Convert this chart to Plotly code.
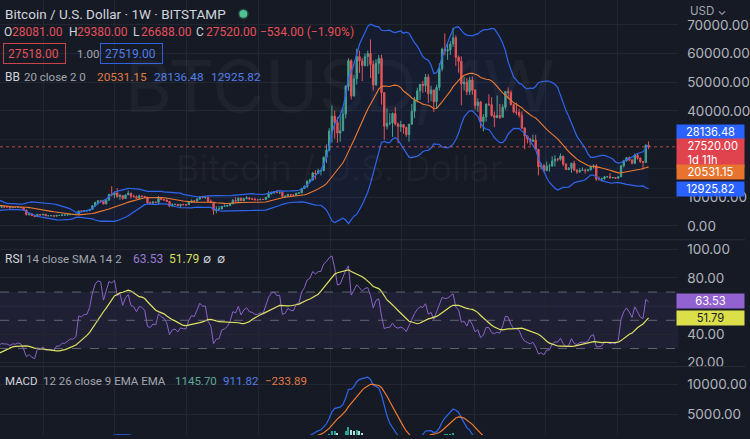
import numpy as np
import pandas as pd
import plotly.graph_objects as go
from plotly.subplots import make_subplots

# ---------------- data (weekly BTC/USD, Bitstamp, values in thousands of USD) -------------
start_week = "2018-01-01"
first_open = 13.4

close_k = [
    # 2018
    16.2, 13.6, 11.6, 11.8, 8.3, 8.1, 10.4, 9.6, 11.5, 9.5, 8.2, 8.4, 6.8,
    7.0, 8.3, 8.9, 9.4, 9.6, 8.7, 8.5, 7.35, 7.7, 6.75, 6.45, 6.15, 6.35,
    6.75, 6.35, 7.4, 8.2, 7.05, 6.3, 6.4, 6.7, 7.3, 6.2, 6.5, 6.7, 6.6,
    6.6, 6.3, 6.45, 6.4, 6.5, 6.35, 5.55, 4.0, 4.15, 3.6, 3.25, 3.95, 3.85, 4.05,
    # 2019
    3.5, 3.55, 3.55, 3.4, 3.65, 3.65, 3.8, 3.8, 3.9, 4.0, 4.0, 4.1,
    5.2, 5.15, 5.3, 5.3, 5.75, 7.0, 8.2, 8.75, 8.7, 7.65, 8.95, 10.9, 10.8,
    11.45, 10.25, 10.55, 9.5, 10.8, 11.4, 10.3, 10.15, 9.6,
    10.4, 10.3, 10.0, 8.05, 7.9, 8.3, 8.2, 9.55, 9.2, 9.05, 8.5, 6.9, 7.4,
    7.5, 7.1, 7.5, 7.4, 7.4,
    # 2020
    8.2, 8.7, 8.6, 9.35, 10.15, 9.9, 9.95, 8.55, 8.05, 5.4, 5.85, 5.9, 6.8,
    6.9, 7.15, 7.7, 8.9, 8.75, 9.65, 8.75, 9.45, 9.75, 9.35, 9.3, 9.1, 9.1,
    9.25, 9.2, 9.95, 11.1, 11.7, 11.9, 11.65, 11.7, 10.25,
    10.35, 10.9, 10.75, 10.7, 11.4, 11.5, 13.0, 13.75,
    15.5, 15.95, 18.4, 18.2, 19.15, 19.25, 23.85, 26.3, 33.0,
    # 2021
    38.2, 36.0, 32.3, 33.1, 38.9, 48.6, 57.5, 45.2, 51.2, 59.0, 57.4, 55.8, 58.9,
    60.0, 56.2, 49.1, 56.6, 58.3, 46.4, 34.7, 35.7, 35.8, 39.1, 35.5, 34.6, 35.3,
    34.25, 31.8, 35.4, 39.9, 43.8, 47.0, 49.3, 48.8, 51.8, 46.0, 47.3, 43.2, 48.2,
    54.7, 61.5, 60.9, 61.3, 63.3, 65.5, 58.7, 57.3, 49.4, 50.1, 46.7, 50.8, 47.3,
    # 2022
    41.9, 43.1, 36.3, 37.9, 42.4, 42.2, 38.4, 37.7, 38.4, 37.8, 41.3, 46.8, 46.4,
    42.2, 39.7, 39.5, 38.5, 34.1, 31.3, 30.3, 29.4, 29.9, 26.6, 20.6, 21.0, 19.3,
    20.8, 20.8, 22.6, 23.3, 23.2, 24.3, 21.5, 19.6, 20.0, 21.8, 19.4, 18.8, 19.3,
    19.4, 19.25, 19.55, 20.6, 20.9, 16.3, 16.3, 16.45, 17.1, 17.1, 16.75, 16.85, 16.6,
    # 2023
    17.1, 20.9, 22.7, 23.75, 22.95, 21.8, 24.65, 23.55, 22.4, 22.1, 28.054, 27.52,
]

high_k = [
    # 2018
    17.2, 17.1, 14.0, 12.0, 12.0, 9.0, 11.0, 11.8, 11.7, 11.6, 9.9, 9.2, 8.5,
    7.5, 8.4, 9.0, 9.8, 9.9, 9.7, 8.9, 8.6, 7.8, 7.8, 6.9, 6.8, 6.5,
    6.9, 6.8, 7.6, 8.5, 8.3, 7.2, 6.6, 6.9, 7.4, 7.4, 6.6, 6.8, 6.8,
    6.7, 6.7, 6.6, 6.5, 6.5, 6.6, 6.5, 5.6, 4.4, 4.3, 3.6, 4.2, 4.2, 4.1,
    # 2019
    4.1, 3.7, 3.6, 3.6, 3.7, 3.7, 4.2, 3.9, 3.95, 4.0, 4.05, 4.15,
    5.3, 5.5, 5.4, 5.6, 5.8, 7.3, 8.3, 8.9, 9.1, 8.8, 9.2, 11.2, 13.8,
    12.0, 13.2, 11.1, 10.6, 11.0, 12.3, 11.5, 10.9, 10.6,
    10.9, 10.5, 10.3, 10.0, 8.5, 8.7, 8.4, 10.4, 9.9, 9.5, 9.1, 8.5, 7.9,
    7.7, 7.6, 7.6, 7.7, 7.6,
    # 2020
    8.4, 9.2, 8.8, 9.6, 10.2, 10.5, 10.3, 10.0, 9.2, 8.2, 6.9, 6.9, 7.0,
    7.5, 7.3, 7.8, 9.4, 10.0, 9.9, 9.9, 9.7, 10.4, 9.9, 9.6, 9.8, 9.3,
    9.5, 9.3, 10.1, 12.1, 11.9, 12.1, 12.5, 11.8, 12.1,
    10.6, 11.2, 10.9, 11.0, 11.5, 11.7, 13.3, 14.1,
    15.9, 16.5, 18.8, 19.4, 19.9, 19.4, 24.2, 28.4, 34.0,
    # 2021
    41.9, 40.1, 37.9, 38.5, 40.9, 49.0, 58.3, 58.0, 52.6, 61.7, 61.0, 58.4, 60.0,
    61.0, 64.9, 57.5, 58.0, 59.5, 59.6, 46.6, 40.9, 39.3, 39.5, 41.3, 36.0, 36.6,
    35.1, 34.6, 35.4, 42.5, 44.9, 48.1, 49.4, 50.5, 52.9, 52.8, 48.8, 47.4, 49.2,
    56.6, 62.0, 67.0, 63.7, 64.3, 69.0, 66.3, 59.3, 59.0, 51.9, 51.5, 51.9, 52.0,
    # 2022
    47.6, 44.4, 43.5, 38.9, 42.6, 45.8, 44.8, 39.8, 45.4, 42.4, 42.3, 47.0, 48.2,
    47.2, 42.5, 42.9, 40.8, 39.9, 34.3, 31.4, 30.6, 31.8, 31.7, 26.9, 21.9, 21.5,
    22.4, 21.6, 24.2, 24.6, 23.6, 25.2, 24.4, 21.8, 20.5, 22.0, 22.7, 19.7, 20.1,
    20.4, 19.9, 19.7, 21.0, 21.4, 21.5, 17.2, 16.8, 17.4, 17.4, 18.4, 17.0, 16.95,
    # 2023
    17.2, 21.3, 23.0, 23.9, 24.2, 23.2, 25.2, 25.3, 23.9, 22.6, 28.4, 29.38,
]

low_k = [
    # 2018
    12.8, 13.1, 9.2, 10.0, 7.9, 6.0, 8.0, 9.3, 9.4, 8.4, 7.3, 8.0, 6.5,
    6.5, 6.6, 7.8, 8.6, 9.0, 8.3, 7.9, 7.1, 7.0, 6.6, 6.1, 5.8, 5.75,
    6.2, 6.1, 6.3, 7.4, 6.9, 6.0, 5.9, 6.2, 6.7, 6.1, 6.1, 6.2, 6.3,
    6.5, 6.1, 6.3, 6.3, 6.2, 6.3, 5.2, 3.6, 3.6, 3.4, 3.2, 3.2, 3.6, 3.7,
    # 2019
    3.45, 3.5, 3.5, 3.35, 3.35, 3.55, 3.6, 3.7, 3.7, 3.85, 3.95, 3.9,
    4.1, 4.9, 5.0, 5.0, 5.2, 5.7, 6.6, 7.5, 8.1, 7.5, 7.5, 8.9, 10.3,
    9.6, 9.8, 9.1, 9.1, 9.4, 10.8, 9.5, 9.9, 9.4,
    9.6, 9.9, 9.6, 7.7, 7.8, 7.8, 7.9, 7.3, 8.9, 8.7, 8.4, 6.5, 6.8,
    7.2, 7.0, 6.4, 7.1, 6.9,
    # 2020
    7.4, 8.1, 8.3, 8.5, 9.1, 9.6, 9.4, 8.4, 8.0, 3.9, 4.4, 5.7, 5.9,
    6.7, 6.6, 6.8, 7.6, 8.1, 8.2, 8.7, 8.7, 9.3, 9.2, 9.2, 8.9, 8.9,
    9.0, 9.1, 9.1, 9.9, 11.0, 11.1, 11.4, 11.1, 9.9,
    9.9, 10.2, 10.2, 10.4, 10.5, 11.2, 11.4, 12.9,
    13.2, 15.0, 15.8, 16.2, 18.1, 17.6, 19.0, 21.9, 26.0,
    # 2021
    29.0, 30.4, 28.9, 29.3, 33.1, 37.4, 47.0, 44.0, 45.1, 49.2, 53.3, 50.4, 55.5,
    55.5, 51.5, 47.1, 48.8, 52.9, 42.2, 30.0, 33.6, 35.0, 31.0, 34.9, 28.8, 32.7,
    32.1, 31.0, 29.3, 35.2, 37.5, 43.0, 43.9, 46.3, 46.6, 42.8, 43.4, 39.6, 40.8,
    47.1, 53.8, 59.4, 57.8, 59.5, 62.3, 55.6, 53.3, 42.0, 47.1, 45.5, 45.6, 45.7,
    # 2022
    40.5, 39.7, 34.0, 32.9, 36.3, 41.7, 38.0, 34.3, 37.5, 37.2, 37.6, 40.5, 44.2,
    41.9, 39.2, 38.6, 37.7, 33.7, 26.7, 28.7, 28.0, 29.3, 26.5, 17.6, 19.6, 18.7,
    19.0, 18.9, 20.7, 20.7, 22.4, 22.7, 20.8, 19.5, 19.5, 18.5, 19.3, 18.1, 18.5,
    19.1, 18.2, 18.9, 19.2, 20.0, 15.6, 15.8, 15.5, 16.1, 16.9, 16.5, 16.6, 16.5,
    # 2023
    16.5, 17.2, 20.4, 22.3, 22.5, 21.4, 21.5, 23.1, 21.9, 19.6, 21.9, 26.688,
]

# axis ticks shown on the price scales (labels hidden behind the value badges are omitted)
price_ticks = [0, 10000, 40000, 50000, 60000, 70000]
rsi_ticks = [20, 40, 80, 100]
macd_ticks = [5000, 10000]

# header / legend readouts (as printed on the chart)
ohlc_letters = ["O", "H", "L", "C"]
ohlc_values = ["28081.00", "29380.00", "26688.00", "27520.00"]
change_text = "−534.00 (−1.90%)"
bid_ask = ["27518.00", "1.00", "27519.00"]
bb_values = ["20531.15", "28136.48", "12925.82"]
rsi_values = ["63.53", "51.79"]
macd_values = ["1145.70", "911.82", "−233.89"]
countdown = "1d 11h"
rsi_levels = [70, 50, 30]

# ---------------- derived series ----------------
n = len(close_k)
dates = pd.date_range(start_week, periods=n, freq="7D")
close = pd.Series(np.array(close_k) * 1000.0, index=dates)
high = np.array(high_k) * 1000.0
low = np.array(low_k) * 1000.0
opens = np.concatenate([[first_open * 1000.0], close.values[:-1]])

basis = close.rolling(20).mean()
dev = close.rolling(20).std(ddof=0)
bb_up = basis + 2 * dev
bb_lo = basis - 2 * dev

delta = close.diff()
gain = delta.clip(lower=0).ewm(alpha=1 / 14, adjust=False).mean()
loss = (-delta.clip(upper=0)).ewm(alpha=1 / 14, adjust=False).mean()
rsi = 100 - 100 / (1 + gain / loss)
rsi_ma = rsi.rolling(14).mean()

ema12 = close.ewm(span=12, adjust=False).mean()
ema26 = close.ewm(span=26, adjust=False).mean()
macd = ema12 - ema26
signal = macd.ewm(span=9, adjust=False).mean()
hist = macd - signal
prev = hist.shift(1)
hist_colors = [
    ("#26a69a" if h > p else "#b2dfdb") if h >= 0 else ("#ffcdd2" if h > p else "#ff5252")
    for h, p in zip(hist.values, prev.fillna(0).values)
]

# ---------------- styling ----------------
BG = "#161a25"
GRID = "#222631"
UP = "#48a48b"
DOWN = "#ef5350"
BLUE = "#2f66f0"
ORANGE = "#f07a2e"
TXT = "#d1d4dc"
GREY = "#a3a6af"
RED_T = "#e5505a"
BLUE_T = "#4f7ee8"
ORANGE_T = "#e07c45"
FONT = "Roboto, Inter, sans-serif"
AXFONT = "Inter, Roboto, sans-serif"
W, H = 750, 439
PLOT_R = 683

def px(x):
    return x / W

def py(y):
    return 1 - y / H

fig = make_subplots(rows=3, cols=1, shared_xaxes=True, vertical_spacing=0,
                    row_heights=[242, 128, 69])

# Bollinger fill + lines
fig.add_trace(go.Scatter(x=dates, y=bb_up, mode="lines", line=dict(color=BLUE, width=1.2),
                         hoverinfo="skip"), row=1, col=1)
fig.add_trace(go.Scatter(x=dates, y=bb_lo, mode="lines", line=dict(color=BLUE, width=1.2),
                         fill="tonexty", fillcolor="rgba(41,98,255,0.05)", hoverinfo="skip"),
              row=1, col=1)
fig.add_trace(go.Scatter(x=dates, y=basis, mode="lines", line=dict(color=ORANGE, width=1.1),
                         hoverinfo="skip"), row=1, col=1)

fig.add_trace(go.Candlestick(
    x=dates, open=opens, high=high, low=low, close=close.values,
    increasing=dict(line=dict(color=UP, width=1), fillcolor=UP),
    decreasing=dict(line=dict(color=DOWN, width=1), fillcolor=DOWN),
    whiskerwidth=0, hoverinfo="skip"), row=1, col=1)

# RSI
fig.add_trace(go.Scatter(x=dates, y=rsi, mode="lines", line=dict(color="#8a63c9", width=1),
                         hoverinfo="skip"), row=2, col=1)
fig.add_trace(go.Scatter(x=dates, y=rsi_ma, mode="lines", line=dict(color="#dfe35f", width=1.2),
                         hoverinfo="skip"), row=2, col=1)

# MACD
fig.add_trace(go.Bar(x=dates, y=hist, marker=dict(color=hist_colors, line=dict(width=0)),
                     width=7 * 24 * 3600 * 1000 * 0.45, hoverinfo="skip"), row=3, col=1)
fig.add_trace(go.Scatter(x=dates, y=macd, mode="lines", line=dict(color=BLUE, width=1.2),
                         hoverinfo="skip"), row=3, col=1)
fig.add_trace(go.Scatter(x=dates, y=signal, mode="lines", line=dict(color=ORANGE, width=1.2),
                         hoverinfo="skip"), row=3, col=1)

x_range = ["2018-09-13", "2023-06-04"]
for i in (1, 2, 3):
    fig.update_xaxes(row=i, col=1, range=x_range, domain=[0, PLOT_R / W],
                     showgrid=True, gridcolor=GRID, gridwidth=1,
                     tick0="2019-01-01", dtick="M6", showticklabels=False,
                     zeroline=False, showline=False, ticks="",
                     rangeslider=dict(visible=False), fixedrange=True)

yax_common = dict(side="right", tickformat=".2f", showgrid=True, gridcolor=GRID,
                  zeroline=False, showline=False, ticks="outside", ticklen=5,
                  tickcolor=BG, tickfont=dict(family=AXFONT, size=13.5, color="#b2b5be"),
                  fixedrange=True)
fig.update_yaxes(row=1, col=1, range=[-4830, 78620], tickvals=price_ticks, **yax_common)
fig.update_yaxes(row=2, col=1, range=[17.2, 107], tickvals=rsi_ticks, **yax_common)
fig.update_yaxes(row=3, col=1, range=[1500, 13000], tickvals=macd_ticks, **yax_common)

shapes = []
# horizontal grid lines that sit behind the hidden labels
for gv in (20000, 30000):
    shapes.append(dict(type="line", xref="x domain", x0=0, x1=1, yref="y", y0=gv, y1=gv,
                       line=dict(color=GRID, width=1), layer="below"))
shapes.append(dict(type="line", xref="x2 domain", x0=0, x1=1, yref="y2", y0=60, y1=60,
                   line=dict(color=GRID, width=1), layer="below"))
# RSI band and levels
shapes.append(dict(type="rect", xref="x2 domain", x0=0, x1=1, yref="y2",
                   y0=min(rsi_levels), y1=max(rsi_levels),
                   fillcolor="rgba(126,87,194,0.10)", line=dict(width=0), layer="below"))
for lv in rsi_levels:
    shapes.append(dict(type="line", xref="x2 domain", x0=0, x1=1, yref="y2", y0=lv, y1=lv,
                       line=dict(color="rgba(120,123,134,0.75)", width=1, dash="dash")))
# last-price dotted line
shapes.append(dict(type="line", xref="x domain", x0=0, x1=1, yref="y",
                   y0=close.values[-1], y1=close.values[-1],
                   line=dict(color="rgba(239,83,80,0.75)", width=1, dash="dot")))
# pane separators
for sep in (242, 370):
    shapes.append(dict(type="line", xref="paper", x0=0, x1=1, yref="paper",
                       y0=py(sep), y1=py(sep), line=dict(color="#2a2e39", width=1)))
# status dot
shapes.append(dict(type="circle", xref="paper", yref="paper",
                   x0=px(241), x1=px(249), y0=py(18), y1=py(10),
                   fillcolor="#4fc390", line=dict(color="rgba(79,195,144,0.25)", width=3)))
fig.update_layout(shapes=shapes)

ann = []

def text(x, y, t, size=12.5, color=TXT, xanchor="left", family=FONT, **kw):
    ann.append(dict(xref="paper", yref="paper", x=px(x), y=py(y), text=t, showarrow=False,
                    xanchor=xanchor, yanchor="middle", align="left",
                    font=dict(family=family, size=size, color=color), **kw))

# title row
text(3, 14, "Bitcoin / U.S. Dollar · 1W · BITSTAMP", size=13.5, color=TXT)
# OHLC row
letter_x = [2, 67, 132, 195]
value_x = [10, 75, 140, 205]
for lt, lx, vt, vx in zip(ohlc_letters, letter_x, ohlc_values, value_x):
    text(lx, 32, lt, size=12, color=TXT)
    text(vx, 32, vt, size=12, color=RED_T)
text(260, 32, change_text, size=12, color=RED_T)
# bid / spread / ask
text(3, 54, bid_ask[0], size=12, color=RED_T, bordercolor="#c9434b", borderwidth=1,
     borderpad=4, width=53, height=11)
text(75, 54, bid_ask[1], size=11.5, color=GREY)
text(101, 54, bid_ask[2], size=12, color=BLUE_T, bordercolor="#2f62e0", borderwidth=1,
     borderpad=4, width=53, height=11)
# BB legend
text(3, 78, "BB", size=12, color=TXT)
text(22, 78, "20 close 2 0", size=11.5, color=GREY)
for t, x0, c in zip(bb_values, [96, 153, 210], [ORANGE_T, BLUE_T, BLUE_T]):
    text(x0, 78, t, size=11.8, color=c)
# RSI legend
text(3, 261, "RSI", size=12, color=TXT)
text(24, 261, "14 close SMA 14 2", size=11.5, color=GREY)
text(132, 261, rsi_values[0], size=12, color="#9a7ad6")
text(168, 261, rsi_values[1], size=12, color="#d9df5a")
text(202, 261, "∅", size=12, color=TXT)
text(216, 261, "∅", size=12, color=TXT)
# MACD legend
text(3, 384, "MACD", size=11.5, color=TXT)
text(41, 384, "12 26 close 9 EMA EMA", size=11.5, color=GREY)
for t, x0, c in zip(macd_values, [174, 222, 265], ["#5fa898", BLUE_T, ORANGE_T]):
    text(x0, 384, t, size=11.5, color=c)
# currency selector
text(693, 11, "USD ⌄", size=11.5, color=GREY, family=AXFONT)

# watermark
text(342, 86, "BTCUSD, 1W", size=72, color="rgba(255,255,255,0.035)", xanchor="center",
     family=AXFONT)
text(342, 170, "Bitcoin / U.S. Dollar", size=36, color="rgba(255,255,255,0.035)",
     xanchor="center", family=AXFONT)

# price-scale badges
def badge(yref, val, label, bg, fg="#ffffff", yshift=0, h=12, align="center"):
    ann.append(dict(xref="paper", x=1, xanchor="right", yref=yref, y=val, yanchor="middle",
                    text=label, showarrow=False, align=align, bgcolor=bg, borderpad=1,
                    width=65, height=h, yshift=yshift,
                    font=dict(family=AXFONT, size=11.2, color=fg)))

badge("y", float(bb_values[1]), bb_values[1], "#2962ff", yshift=13)
badge("y", float(ohlc_values[3]),
      "&nbsp;&nbsp;&nbsp;" + ohlc_values[3] + "<br>&nbsp;&nbsp;&nbsp;" + countdown,
      "#e0434e", yshift=-6, h=26, align="left")
badge("y", float(bb_values[0]), bb_values[0], "#e8732f", yshift=-5)
badge("y", float(bb_values[2]), bb_values[2], "#2962ff")
badge("y2", float(rsi_values[0]), rsi_values[0], "#9262d0")
badge("y2", float(rsi_values[1]), rsi_values[1], "#dbe04a", fg="#1a1d27")
badge("y3", float(macd_values[0]), macd_values[0], "#4e9e8f")

fig.update_layout(
    annotations=ann,
    width=W, height=H, margin=dict(l=0, r=0, t=0, b=0),
    paper_bgcolor=BG, plot_bgcolor=BG, showlegend=False,
    bargap=0, hovermode=False,
    font=dict(family=FONT, color=TXT),
)

fig.write_html("out.html")
